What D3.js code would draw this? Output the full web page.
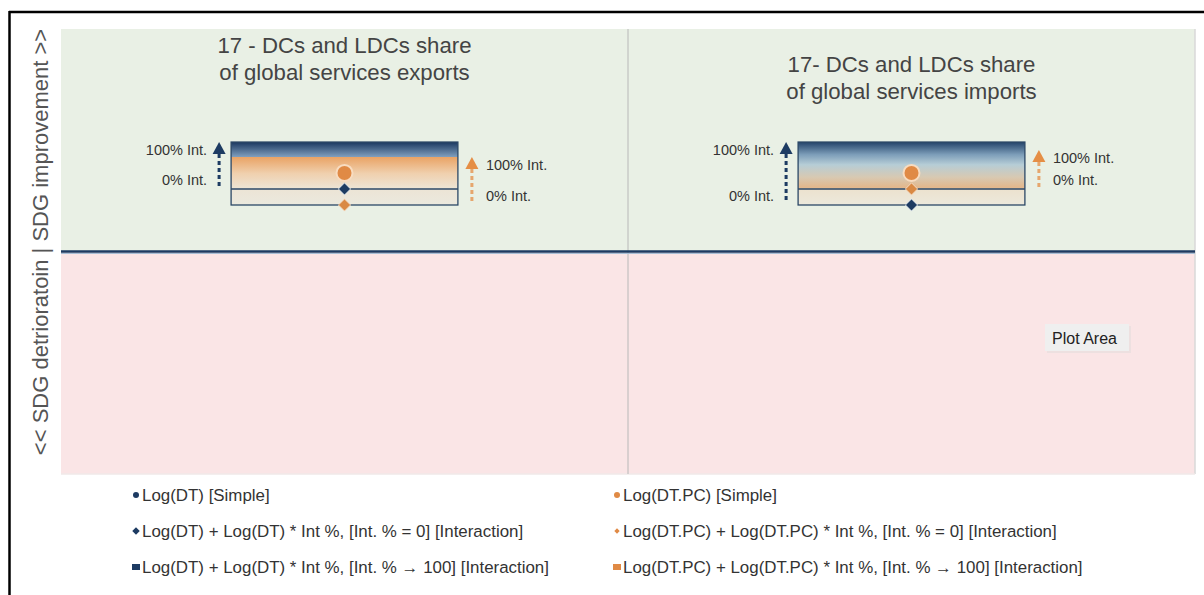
<!DOCTYPE html>
<html><head><meta charset="utf-8">
<script src="https://cdn.jsdelivr.net/npm/d3@7"></script>
<style>body{margin:0;background:#fff;}svg{display:block;font-family:"Liberation Sans",Arial,sans-serif;}</style>
</head><body><svg id="c" width="1204" height="595"></svg>
<script>
// ---- data ----
const panels = ["exports", "imports"];
const titles = [["17 - DCs and LDCs share", "of global services exports"], ["17- DCs and LDCs share", "of global services imports"]];
const dtSimple = [0.353, 0.353];
const pcSimple = [0.353, 0.353];
const dtInt0 = [0.281, 0.209];
const dtInt100 = [0.492, 0.492];
const pcInt0 = [0.209, 0.281];
const pcInt100 = [0.425, 0.456];
const legendLabels = [
  ["Log(DT) [Simple]", "Log(DT) + Log(DT) * Int %, [Int. % = 0] [Interaction]", "Log(DT) + Log(DT) * Int %, [Int. % \u2192 100] [Interaction]"],
  ["Log(DT.PC) [Simple]", "Log(DT.PC) + Log(DT.PC) * Int %, [Int. % = 0] [Interaction]", "Log(DT.PC) + Log(DT.PC) * Int %, [Int. % \u2192 100] [Interaction]"]
];
const yDomain = [-1, 1];

// ---- layout ----
const NAVY = "#1d3b62", ORANGE = "#e08a45";
const svg = d3.select("#c");
const L = 61, R = 1195, T = 29, B = 474;
const x = d3.scaleBand().domain(panels).range([L, R]);
const y = d3.scaleLinear().domain(yDomain).range([B, T]);

// frame
svg.append("line").attr("x1", 9).attr("x2", 1204).attr("y1", 12).attr("y2", 12).attr("stroke", "#000").attr("stroke-width", 2.5);
svg.append("line").attr("x1", 9.5).attr("x2", 9.5).attr("y1", 11).attr("y2", 595).attr("stroke", "#000").attr("stroke-width", 2.5);

// backgrounds
svg.append("rect").attr("x", L).attr("y", y(1)).attr("width", R - L).attr("height", y(0) - y(1)).attr("fill", "#e9f0e5");
svg.append("rect").attr("x", L).attr("y", y(0)).attr("width", R - L).attr("height", y(-1) - y(0)).attr("fill", "#fae5e6");
svg.append("line").attr("x1", R).attr("x2", R).attr("y1", T).attr("y2", B).attr("stroke", "#d8d8d8").attr("stroke-width", 1.5);
svg.append("line").attr("x1", L).attr("x2", R).attr("y1", B).attr("y2", B).attr("stroke", "#f0e8e8").attr("stroke-width", 1.5);
// divider
svg.append("line").attr("x1", x("imports")).attr("x2", x("imports")).attr("y1", T).attr("y2", B).attr("stroke", "#b8b8b8").attr("stroke-width", 1);
// zero line
svg.append("line").attr("x1", L).attr("x2", R).attr("y1", y(0) + 2).attr("y2", y(0) + 2).attr("stroke", "#a9bfd6").attr("stroke-width", 1.2);
svg.append("line").attr("x1", L).attr("x2", R).attr("y1", y(0)).attr("y2", y(0)).attr("stroke", NAVY).attr("stroke-width", 2.5);

// y axis label
svg.append("text").attr("transform", "translate(48,242) rotate(-90)").attr("text-anchor", "middle")
  .attr("font-size", 22).attr("fill", "#555").text("<< SDG detrioratoin | SDG improvement >>");

const defs = svg.append("defs");
const gradStops = [
  [[0, "#1b3860"], [0.235, "#7f9ebd"], [0.24, "#e9a365"], [0.5, "#f0d0ae"], [0.74, "#ece4d5"], [1, "#ebe9de"]],
  [[0, "#24436a"], [0.2, "#7d9eb9"], [0.36, "#b6cdd6"], [0.56, "#d8c9b2"], [0.72, "#e3b78b"], [0.76, "#ece2cf"], [1, "#ece9dc"]]
];
panels.forEach((p, i) => {
  const g = defs.append("linearGradient").attr("id", "g" + i).attr("x1", 0).attr("x2", 0).attr("y1", 0).attr("y2", 1);
  gradStops[i].forEach(s => g.append("stop").attr("offset", s[0]).attr("stop-color", s[1]));
});

const sym = d3.symbol();
panels.forEach((p, i) => {
  const g = svg.append("g");
  const cx = x(p) + x.bandwidth() / 2;
  const bw = x.bandwidth() * 0.4;
  // title
  const ty = i === 0 ? 53 : 72;
  titles[i].forEach((t, k) => g.append("text").attr("x", cx).attr("y", ty + k * 27).attr("text-anchor", "middle")
    .attr("font-size", 22.2).attr("fill", "#444").text(t));
  const top = Math.max(dtInt100[i], pcInt100[i], dtInt0[i], pcInt0[i]);
  const bot = Math.min(dtInt100[i], pcInt100[i], dtInt0[i], pcInt0[i]);
  g.append("rect").attr("x", cx - bw / 2).attr("y", y(top)).attr("width", bw).attr("height", y(bot) - y(top))
    .attr("fill", "url(#g" + i + ")").attr("stroke", "#2b4766").attr("stroke-width", 1.3);
  const inner = Math.max(dtInt0[i], pcInt0[i]);
  g.append("line").attr("x1", cx - bw / 2).attr("x2", cx + bw / 2).attr("y1", y(inner)).attr("y2", y(inner))
    .attr("stroke", "#2b4766").attr("stroke-width", 1.3);
  // markers
  g.append("circle").attr("cx", cx).attr("cy", y(dtSimple[i])).attr("r", 3).attr("fill", NAVY);
  g.append("circle").attr("cx", cx).attr("cy", y(pcSimple[i])).attr("r", 8).attr("fill", ORANGE).attr("stroke", "#f8dcc0").attr("stroke-width", 2);
  g.append("path").attr("d", sym.type(d3.symbolDiamond2).size(95)()).attr("transform", `translate(${cx},${y(pcInt0[i])})`)
    .attr("fill", "#d98944").attr("stroke", "#f5dcc4").attr("stroke-width", 1);
  g.append("path").attr("d", sym.type(d3.symbolDiamond2).size(95)()).attr("transform", `translate(${cx},${y(dtInt0[i])})`)
    .attr("fill", NAVY).attr("stroke", "#e8eef0").attr("stroke-width", 1);

  // arrows
  const arrows = [
    {ax: cx - bw / 2 - 12, v0: dtInt0[i], v1: dtInt100[i], col: NAVY, side: -1},
    {ax: cx + bw / 2 + 14, v0: pcInt0[i], v1: pcInt100[i], col: "#e58e45", side: 1}
  ];
  arrows.forEach(a => {
    const y1 = y(a.v1), y0 = y(a.v0);
    g.append("line").attr("x1", a.ax).attr("x2", a.ax).attr("y1", y1 + 12).attr("y2", y0 - 2)
      .attr("stroke", a.col).attr("stroke-width", 3).attr("stroke-dasharray", "4,3").attr("opacity", a.side > 0 ? 0.75 : 1);
    g.append("path").attr("d", `M${a.ax},${y1} L${a.ax + 6.5},${y1 + 12} L${a.ax - 6.5},${y1 + 12} Z`).attr("fill", a.col);
    const tx = a.side < 0 ? a.ax - 12 : a.ax + 14;
    const anchor = a.side < 0 ? "end" : "start";
    g.append("text").attr("x", tx).attr("y", y1 + 13).attr("text-anchor", anchor).attr("font-size", 14.5).attr("fill", "#333").text("100% Int.");
    g.append("text").attr("x", tx).attr("y", y0 - 4).attr("text-anchor", anchor).attr("font-size", 14.5).attr("fill", "#333").text("0% Int.");
  });
});

// legend
const legCols = [{mx: 136, col: NAVY}, {mx: 617, col: ORANGE}];
legendLabels.forEach((labels, c) => {
  labels.forEach((t, r) => {
    const ly = 495 + r * 36;
    const mx = legCols[c].mx, col = legCols[c].col;
    if (r === 0) svg.append("circle").attr("cx", mx).attr("cy", ly).attr("r", 3).attr("fill", col);
    if (r === 1) svg.append("path").attr("d", d3.symbol().type(d3.symbolDiamond2).size(c === 0 ? 36 : 18)()).attr("transform", `translate(${mx},${ly})`).attr("fill", col);
    if (r === 2) svg.append("rect").attr("x", mx - 4).attr("y", ly - 3).attr("width", 8).attr("height", 6).attr("fill", col);
    svg.append("text").attr("x", mx + 6).attr("y", ly + 6).attr("font-size", 16.9).attr("fill", "#333").text(t);
  });
});

// tooltip "Plot Area"
const tip = svg.append("g");
tip.append("rect").attr("x", 1047).attr("y", 326).attr("width", 84).attr("height", 27).attr("fill", "#e4dcdc").attr("opacity", 0.6);
tip.append("rect").attr("x", 1045).attr("y", 324).attr("width", 84).attr("height", 27).attr("fill", "#efefef");
tip.append("text").attr("x", 1052).attr("y", 344).attr("font-size", 16).attr("fill", "#222").text("Plot Area");
</script></body></html>
